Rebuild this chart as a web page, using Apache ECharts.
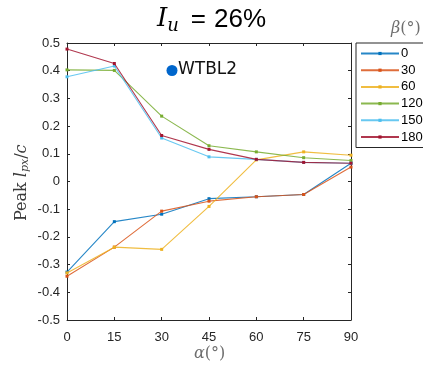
<!DOCTYPE html>
<html>
<head>
<meta charset="utf-8">
<script src="https://cdn.jsdelivr.net/npm/echarts@6/dist/echarts.min.js"></script>
<style>html,body{margin:0;padding:0;background:#fff;}#c{width:423px;height:368px;}</style>
</head>
<body>
<div id="c"></div>
<script>
const alphas = [0, 15, 30, 45, 60, 75, 90];
const betaNames = ['0', '30', '60', '120', '150', '180'];
const beta0 = [-0.327, -0.145, -0.118, -0.062, -0.055, -0.047, 0.066];
const beta30 = [-0.342, -0.237, -0.107, -0.071, -0.055, -0.047, 0.052];
const beta60 = [-0.330, -0.237, -0.245, -0.090, 0.078, 0.107, 0.095];
const beta120 = [0.403, 0.401, 0.236, 0.129, 0.107, 0.086, 0.076];
const beta150 = [0.378, 0.417, 0.157, 0.089, 0.080, 0.069, 0.066];
const beta180 = [0.478, 0.426, 0.166, 0.116, 0.080, 0.069, 0.066];
const xTicks = [0, 15, 30, 45, 60, 75, 90];
const yTicks = [-0.5, -0.4, -0.3, -0.2, -0.1, 0, 0.1, 0.2, 0.3, 0.4, 0.5];
const colors = ['#0072BD', '#D95319', '#EDB120', '#77AC30', '#4DBEEE', '#A2142F'];
const allSeries = [beta0, beta30, beta60, beta120, beta150, beta180];

const chart = echarts.init(document.getElementById('c'), null, {renderer: 'canvas'});
const axColor = '#262626';
const series = allSeries.map((vals, i) => ({
  name: betaNames[i],
  type: 'line',
  xAxisIndex: 0,
  yAxisIndex: 0,
  data: vals.map((v, j) => [alphas[j], v]),
  symbol: 'rect',
  symbolSize: 3,
  showSymbol: true,
  lineStyle: {width: 1.1, color: colors[i], opacity: 0.85},
  itemStyle: {color: colors[i]},
  z: 2 + i,
  animation: false
}));
series.push({
  type: 'scatter', xAxisIndex: 1, yAxisIndex: 1, data: [], silent: true
});

const fmtY = v => {
  const t = yTicks.find(t => Math.abs(t - v) < 1e-9);
  return t === undefined ? '' : String(t);
};
const fmtX = v => {
  const t = xTicks.find(t => Math.abs(t - v) < 1e-9);
  return t === undefined ? '' : String(t);
};

chart.setOption({
  animation: false,
  color: colors,
  grid: {left: 67, right: 72, top: 43, bottom: 48, show: false},
  xAxis: [{
    type: 'value', min: 0, max: 90, interval: 15, position: 'bottom',
    axisLine: {show: true, onZero: false, lineStyle: {color: axColor, width: 1}},
    axisTick: {show: true, inside: true, length: 3, lineStyle: {color: axColor}},
    axisLabel: {show: true, color: '#262626', fontSize: 13, fontFamily: 'Liberation Sans', margin: 11, formatter: fmtX},
    splitLine: {show: false}
  }, {
    type: 'value', min: 0, max: 90, interval: 15, position: 'top',
    axisLine: {show: true, onZero: false, lineStyle: {color: axColor, width: 1}},
    axisTick: {show: true, inside: true, length: 3, lineStyle: {color: axColor}},
    axisLabel: {show: false}, splitLine: {show: false}
  }],
  yAxis: [{
    type: 'value', min: -0.5, max: 0.5, interval: 0.1, position: 'left',
    axisLine: {show: true, onZero: false, lineStyle: {color: axColor, width: 1}},
    axisTick: {show: true, inside: true, length: 3, lineStyle: {color: axColor}},
    axisLabel: {show: true, color: '#262626', fontSize: 13, fontFamily: 'Liberation Sans', margin: 7, formatter: fmtY},
    splitLine: {show: false}
  }, {
    type: 'value', min: -0.5, max: 0.5, interval: 0.1, position: 'right',
    axisLine: {show: true, onZero: false, lineStyle: {color: axColor, width: 1}},
    axisTick: {show: true, inside: true, length: 3, lineStyle: {color: axColor}},
    axisLabel: {show: false}, splitLine: {show: false}
  }],
  legend: {
    data: betaNames,
    orient: 'vertical',
    left: 356, top: 43,
    padding: [4, 30, 4, 4],
    itemGap: 3.7,
    itemWidth: 38, itemHeight: 4,
    backgroundColor: '#fff',
    borderColor: '#262626', borderWidth: 1, borderRadius: 0,
    textStyle: {fontSize: 13, lineHeight: 13, color: '#000', fontFamily: 'Liberation Sans', padding: [0, 0, 0, -3]},
    selectedMode: false
  },
  graphic: [
    {
      type: 'text', x: 157, y: 4,
      style: {
        rich: {
          I: {fontFamily: 'DejaVu Serif', fontStyle: 'italic', fontSize: 26, fill: '#000'},
          u: {fontFamily: 'DejaVu Serif', fontStyle: 'italic', fontSize: 18, fill: '#000', padding: [13, 0, 0, 0]},
          e: {fontFamily: 'Liberation Sans', fontSize: 26, fill: '#000', padding: [0, 8, 0, 12]},
          r: {fontFamily: 'Liberation Sans', fontSize: 26, fill: '#000'}
        },
        text: '{I|I}{u|u}{e|=}{r|26%}'
      }
    },
    {
      type: 'text', x: 391, y: 21,
      style: {
        rich: {
          b: {fontFamily: 'DejaVu Serif', fontStyle: 'italic', fontSize: 16, fill: '#6e6e6e'},
          p: {fontFamily: 'DejaVu Serif', fontSize: 16, fill: '#6e6e6e'}
        },
        text: '{b|β}{p|(°)}'
      }
    },
    {
      type: 'text', x: 194, y: 346,
      style: {
        rich: {
          a: {fontFamily: 'DejaVu Serif', fontStyle: 'italic', fontSize: 16, fill: '#6e6e6e'},
          p: {fontFamily: 'DejaVu Serif', fontSize: 16, fill: '#6e6e6e'}
        },
        text: '{a|α}{p|(°)}'
      }
    },
    {
      type: 'text', x: 12, y: 221, rotation: Math.PI / 2,
      style: {
        rich: {
          n: {fontFamily: 'DejaVu Serif', fontSize: 16, fill: '#3a3a3a'},
          i: {fontFamily: 'DejaVu Serif', fontStyle: 'italic', fontSize: 16, fill: '#3a3a3a'},
          s: {fontFamily: 'DejaVu Serif', fontStyle: 'italic', fontSize: 11, fill: '#3a3a3a', padding: [8, 0, 0, 0]}
        },
        text: '{n|Peak }{i|l}{s|px}{n|/}{i|c}'
      }
    },
    {
      type: 'circle', shape: {cx: 172, cy: 70.5, r: 5.5},
      style: {fill: '#0066CC'}, z: 10
    },
    {
      type: 'text', x: 178, y: 61,
      style: {text: 'WTBL2', fontFamily: 'DejaVu Sans', fontSize: 17, fill: '#111'}, z: 10
    }
  ],
  series: series
});
</script>
</body>
</html>
